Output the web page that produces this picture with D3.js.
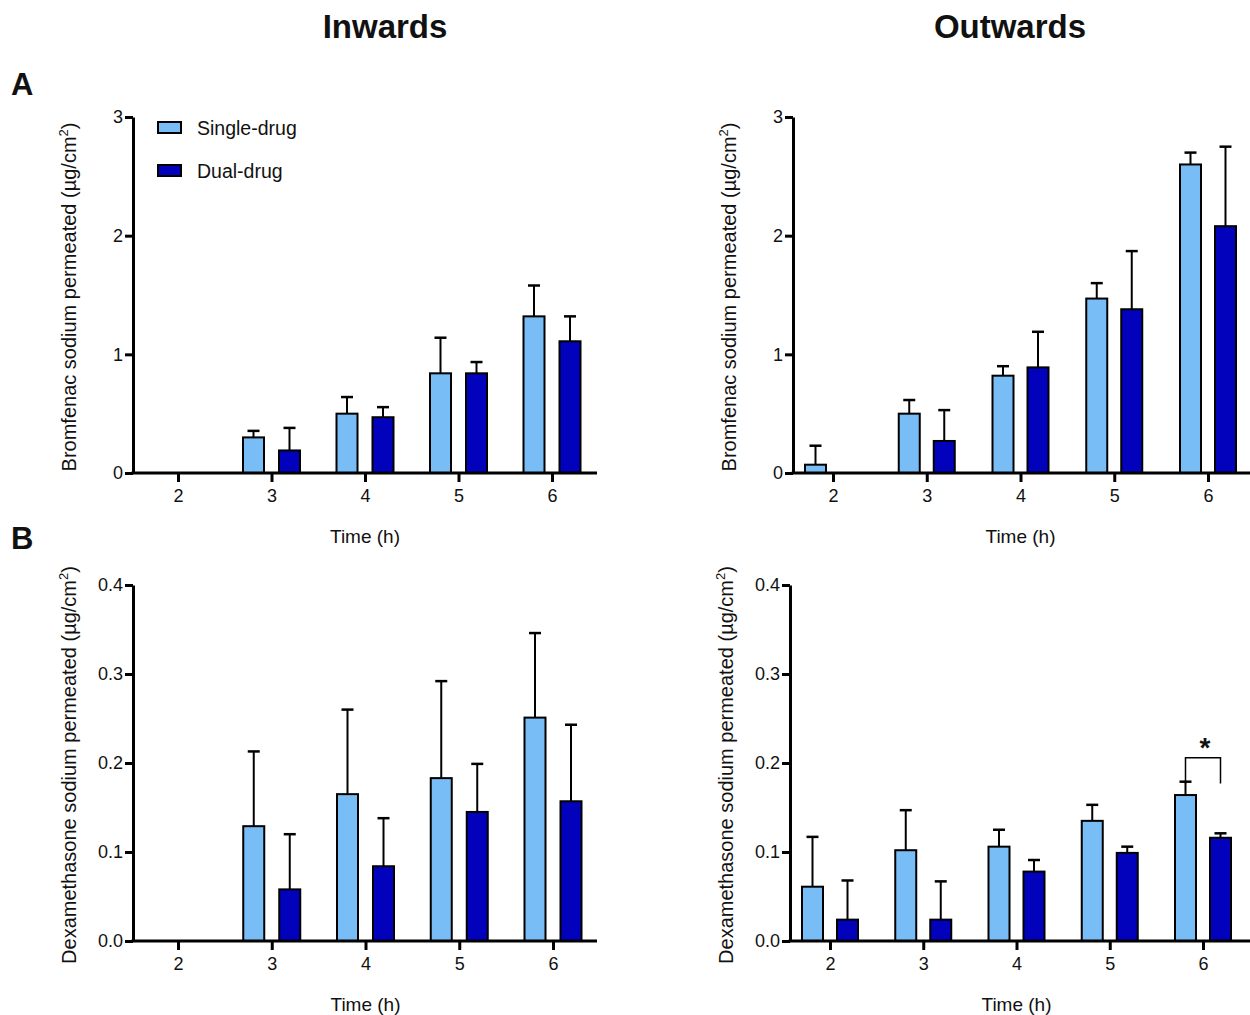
<!DOCTYPE html>
<html>
<head>
<meta charset="utf-8">
<script src="https://cdn.jsdelivr.net/npm/d3@7"></script>
<style>
  body { margin: 0; background: #fff; }
  text { font-family: "Liberation Sans", Arial, sans-serif; fill: #111; }
</style>
</head>
<body>
<svg id="fig" width="1250" height="1015"></svg>
<script>
// Time points (h)
const times = [2, 3, 4, 5, 6];

// Bromfenac, inwards (mean, SD); null = no bar
const brInSingle = [null, 0.30, 0.50, 0.84, 1.32];
const brInSingleSD = [null, 0.055, 0.14, 0.30, 0.26];
const brInDual = [null, 0.19, 0.47, 0.84, 1.11];
const brInDualSD = [null, 0.19, 0.085, 0.095, 0.21];

// Bromfenac, outwards
const brOutSingle = [0.07, 0.50, 0.82, 1.47, 2.60];
const brOutSingleSD = [0.16, 0.115, 0.08, 0.13, 0.10];
const brOutDual = [null, 0.27, 0.89, 1.38, 2.08];
const brOutDualSD = [null, 0.26, 0.30, 0.49, 0.67];

// Dexamethasone, inwards
const dxInSingle = [null, 0.129, 0.165, 0.183, 0.251];
const dxInSingleSD = [null, 0.084, 0.095, 0.109, 0.095];
const dxInDual = [null, 0.058, 0.084, 0.145, 0.157];
const dxInDualSD = [null, 0.062, 0.054, 0.054, 0.086];

// Dexamethasone, outwards
const dxOutSingle = [0.061, 0.102, 0.106, 0.135, 0.164];
const dxOutSingleSD = [0.056, 0.045, 0.019, 0.018, 0.015];
const dxOutDual = [0.024, 0.024, 0.078, 0.099, 0.116];
const dxOutDualSD = [0.044, 0.043, 0.013, 0.007, 0.005];

const brTicks = [0, 1, 2, 3];
const dxTicks = [0, 0.1, 0.2, 0.3, 0.4];

const seriesNames = ["Single-drug", "Dual-drug"];
const colors = ["#79bdf6", "#0202bd"];

const svg = d3.select("#fig");

// panel layout
const panels = [
  { x0: 133, x1: 597, t2: 178, t6: 552, top: 117, bottom: 473, ticks: brTicks, fmt: d3.format("d"),
    drug: "Bromfenac", series: [[brInSingle, brInSingleSD], [brInDual, brInDualSD]], legend: true, offset: 18 },
  { x0: 793, x1: 1250, t2: 833, t6: 1208, top: 117, bottom: 473, ticks: brTicks, fmt: d3.format("d"),
    drug: "Bromfenac", series: [[brOutSingle, brOutSingleSD], [brOutDual, brOutDualSD]], offset: 17.5 },
  { x0: 133, x1: 597, t2: 178, t6: 553, top: 585, bottom: 941, ticks: dxTicks, fmt: d3.format(".1f"),
    drug: "Dexamethasone", series: [[dxInSingle, dxInSingleSD], [dxInDual, dxInDualSD]], offset: 18 },
  { x0: 790, x1: 1250, t2: 830, t6: 1203, top: 585, bottom: 941, ticks: dxTicks, fmt: d3.format(".1f"),
    drug: "Dexamethasone", series: [[dxOutSingle, dxOutSingleSD], [dxOutDual, dxOutDualSD]], offset: 17.5, sig: 6 }
];

const barW = 21;

panels.forEach(p => {
  const g = svg.append("g");
  const x = d3.scaleLinear().domain([2, 6]).range([p.t2, p.t6]);
  const y = d3.scaleLinear().domain([0, d3.max(p.ticks)]).range([p.bottom, p.top]);

  // bars + error bars
  p.series.forEach(([vals, sds], si) => {
    const off = si === 0 ? -p.offset : p.offset;
    const data = times.map((t, i) => ({ t, v: vals[i], sd: sds[i] })).filter(d => d.v !== null);

    g.selectAll(null).data(data).enter().append("line")
      .attr("x1", d => x(d.t) + off).attr("x2", d => x(d.t) + off)
      .attr("y1", d => y(d.v)).attr("y2", d => y(d.v + d.sd))
      .attr("stroke", "#000").attr("stroke-width", 2);
    g.selectAll(null).data(data).enter().append("line")
      .attr("x1", d => x(d.t) + off - 6).attr("x2", d => x(d.t) + off + 6)
      .attr("y1", d => y(d.v + d.sd)).attr("y2", d => y(d.v + d.sd))
      .attr("stroke", "#000").attr("stroke-width", 2.5);

    g.selectAll(null).data(data).enter().append("rect")
      .attr("x", d => x(d.t) + off - barW / 2)
      .attr("width", barW)
      .attr("y", d => y(d.v))
      .attr("height", d => y(0) - y(d.v))
      .attr("fill", colors[si])
      .attr("stroke", "#000").attr("stroke-width", 2);
  });

  // x axis
  const xa = g.append("g").attr("transform", `translate(0,${p.bottom})`)
    .call(d3.axisBottom(x).tickValues(times).tickFormat(d3.format("d"))
      .tickSize(9).tickSizeOuter(0).tickPadding(7));
  xa.select(".domain").remove();
  xa.selectAll(".tick line").attr("stroke", "#000").attr("stroke-width", 3);
  xa.selectAll(".tick text").attr("font-size", 18).attr("font-family", "Liberation Sans, Arial, sans-serif").attr("fill", "#111");
  g.append("line").attr("x1", p.x0 - 1.5).attr("x2", p.x1).attr("y1", p.bottom).attr("y2", p.bottom)
    .attr("stroke", "#000").attr("stroke-width", 3);

  // y axis
  const ya = g.append("g").attr("transform", `translate(${p.x0},0)`)
    .call(d3.axisLeft(y).tickValues(p.ticks).tickFormat(p.fmt).tickSize(8).tickSizeOuter(0).tickPadding(2));
  ya.select(".domain").attr("stroke", "#000").attr("stroke-width", 3);
  ya.selectAll(".tick line").attr("stroke", "#000").attr("stroke-width", 3);
  ya.selectAll(".tick text").attr("font-size", 18).attr("font-family", "Liberation Sans, Arial, sans-serif").attr("fill", "#111");

  // axis titles
  g.append("text").attr("x", (p.t2 + p.t6) / 2).attr("y", p.bottom + 70)
    .attr("text-anchor", "middle").attr("font-size", 19).text("Time (h)");

  const yl = g.append("text")
    .attr("transform", `translate(${p.x0 - 57},${(p.top + p.bottom) / 2 + 2}) rotate(-90)`)
    .attr("text-anchor", "middle").attr("font-size", 20);
  yl.append("tspan").text(`${p.drug} sodium permeated (µg/cm`);
  yl.append("tspan").attr("dy", -8).attr("font-size", 13).text("2");
  yl.append("tspan").attr("dy", 8).text(")");

  // legend
  if (p.legend) {
    seriesNames.forEach((name, i) => {
      g.append("rect").attr("x", 158).attr("y", 122 + i * 43).attr("width", 23).attr("height", 11)
        .attr("fill", colors[i]).attr("stroke", "#000").attr("stroke-width", 2);
      g.append("text").attr("x", 197).attr("y", 135 + i * 43).attr("font-size", 19.5).text(name);
    });
  }

  // significance bracket
  if (p.sig) {
    const xl = x(p.sig) - p.offset, xr = x(p.sig) + p.offset;
    const yb = y(0.177), yt = y(0.206);
    g.append("path").attr("d", `M${xl},${yb}V${yt}H${xr}V${yb}`)
      .attr("fill", "none").attr("stroke", "#000").attr("stroke-width", 1.5);
    g.append("text").attr("x", x(p.sig) + 2).attr("y", yt - 1).attr("text-anchor", "middle")
      .attr("font-size", 28).attr("font-weight", "bold").text("*");
  }
});

// column headers and panel letters
svg.append("text").attr("x", 385).attr("y", 38).attr("text-anchor", "middle")
  .attr("font-size", 33).attr("font-weight", "bold").text("Inwards");
svg.append("text").attr("x", 1010).attr("y", 38).attr("text-anchor", "middle")
  .attr("font-size", 33).attr("font-weight", "bold").text("Outwards");
svg.append("text").attr("x", 11).attr("y", 95).attr("font-size", 31).attr("font-weight", "bold").text("A");
svg.append("text").attr("x", 11).attr("y", 549).attr("font-size", 31).attr("font-weight", "bold").text("B");
</script>
</body>
</html>
